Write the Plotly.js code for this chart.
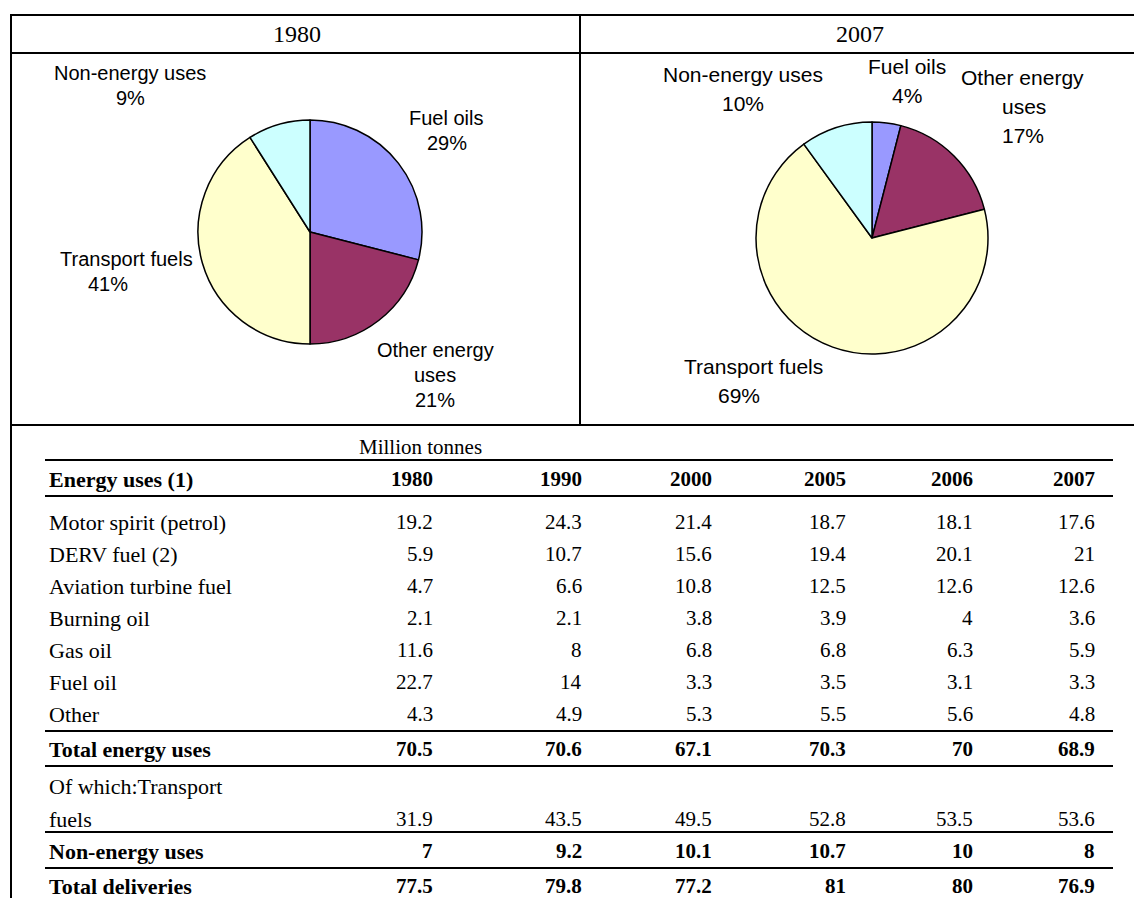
<!DOCTYPE html>
<html><head><meta charset="utf-8">
<script src="https://cdn.plot.ly/plotly-3.0.1.min.js"></script>
<style>html,body{margin:0;padding:0;background:#fff}</style>
</head><body><div id="chart" style="width:1134px;height:898px"></div>
<script>
// ---------- DATA ----------
const pieCategories = ["Fuel oils", "Other energy uses", "Transport fuels", "Non-energy uses"];
const pieYears = ["1980", "2007"];
const pieShares1980 = [29, 21, 41, 9];
const pieShares2007 = [4, 17, 69, 10];

const unitLabel = "Million tonnes";
const headerLabel = "Energy uses (1)";
const tableYears = ["1980", "1990", "2000", "2005", "2006", "2007"];
const rowNames = ["Motor spirit (petrol)", "DERV fuel (2)", "Aviation turbine fuel", "Burning oil",
  "Gas oil", "Fuel oil", "Other", "Total energy uses", "Of which:Transport fuels",
  "Non-energy uses", "Total deliveries"];
const motorSpirit = [19.2, 24.3, 21.4, 18.7, 18.1, 17.6];
const dervFuel = [5.9, 10.7, 15.6, 19.4, 20.1, 21];
const aviationFuel = [4.7, 6.6, 10.8, 12.5, 12.6, 12.6];
const burningOil = [2.1, 2.1, 3.8, 3.9, 4, 3.6];
const gasOil = [11.6, 8, 6.8, 6.8, 6.3, 5.9];
const fuelOil = [22.7, 14, 3.3, 3.5, 3.1, 3.3];
const otherUses = [4.3, 4.9, 5.3, 5.5, 5.6, 4.8];
const totalEnergy = [70.5, 70.6, 67.1, 70.3, 70, 68.9];
const transportFuels = [31.9, 43.5, 49.5, 52.8, 53.5, 53.6];
const nonEnergy = [7, 9.2, 10.1, 10.7, 10, 8];
const totalDeliveries = [77.5, 79.8, 77.2, 81, 80, 76.9];
const rowValues = [motorSpirit, dervFuel, aviationFuel, burningOil, gasOil, fuelOil, otherUses,
  totalEnergy, transportFuels, nonEnergy, totalDeliveries];

// ---------- STYLE / LAYOUT ----------
const W = 1134, H = 898;
const pieColors = ["#9999FF", "#993366", "#FFFFCC", "#CCFFFF"];
const sansFont = "Liberation Sans, Arial, sans-serif";
const serifFont = "Liberation Serif, Times New Roman, serif";

const pieGeom = [{cx: 310, cy: 232, r: 112}, {cx: 872, cy: 238, r: 116}];
const labelWrap = {"Other energy uses": ["Other energy", "uses"], "Of which:Transport fuels": ["Of which:Transport", "fuels"]};
const pieLabelPos = [
  [{xs: [446, 447], y: 118}, {xs: [435, 435, 435], y: 350}, {xs: [126, 108], y: 259}, {xs: [130, 130], y: 73}],
  [{xs: [907, 907], y: 66}, {xs: [1022, 1024, 1023], y: 77}, {xs: [753, 739], y: 366}, {xs: [743, 743], y: 74}]
];
const pieLineGap = [25, 29];
const pieFontSize = [20, 21];

const rowY = [522, 554, 586, 618, 650, 682, 714, 749, [786, 819], 851, 886];
const headerRowY = 479;
const boldRows = [7, 9, 10];
const colRight = [435, 584, 714, 848, 975, 1097];
const labelX = 47;
const tableFontSize = 21;
const labelFontSize = 22;
const tableLines = [460, 496, 731, 766, 832, 868];
const tableX0 = 45, tableX1 = 1113;

const frame = {left: 11, top: 15, headBottom: 53, divider: 580, pieBottom: 425};

// ---------- BUILD ----------
const traces = [pieShares1980, pieShares2007].map((vals, i) => {
  const g = pieGeom[i];
  return {
    type: "pie", labels: pieCategories, values: vals, sort: false,
    direction: "clockwise", rotation: 0, textinfo: "none", hoverinfo: "label+percent",
    marker: {colors: pieColors, line: {color: "#000", width: 1.5}},
    domain: {x: [(g.cx - g.r) / W, (g.cx + g.r) / W], y: [1 - (g.cy + g.r) / H, 1 - (g.cy - g.r) / H]},
    showlegend: false
  };
});

const ann = [];
const shapes = [];
const line = (x0, y0, x1, y1, w) => shapes.push({type: "line", xref: "x", yref: "y", x0, y0, x1, y1,
  line: {color: "#000", width: w || 2}});

// frame
line(frame.left, frame.top, W + 5, frame.top);
line(frame.left, frame.headBottom, W + 5, frame.headBottom);
line(frame.left, frame.pieBottom, W + 5, frame.pieBottom);
line(frame.left, frame.top - 1, frame.left, H + 5);
line(frame.divider, frame.top, frame.divider, frame.pieBottom);

// header years
const headFont = {family: serifFont, size: 24, color: "#000"};
ann.push({x: 297, y: (frame.top + frame.headBottom) / 2, text: pieYears[0], font: headFont});
ann.push({x: 860, y: (frame.top + frame.headBottom) / 2, text: pieYears[1], font: headFont});

// pie labels
[pieShares1980, pieShares2007].forEach((vals, i) => {
  const total = vals.reduce((a, b) => a + b, 0);
  pieCategories.forEach((c, k) => {
    const lines = (labelWrap[c] || [c]).concat([Math.round(vals[k] / total * 100) + "%"]);
    const p = pieLabelPos[i][k];
    lines.forEach((t, j) => ann.push({x: p.xs[j], y: p.y + j * pieLineGap[i], text: t,
      font: {family: sansFont, size: pieFontSize[i], color: "#000"}}));
  });
});

// table
const tFont = {family: serifFont, size: tableFontSize, color: "#000"};
const lFont = {family: serifFont, size: labelFontSize, color: "#000"};
tableLines.forEach(y => line(tableX0, y, tableX1, y));
ann.push({x: 420, y: 447, text: unitLabel, font: tFont});
ann.push({x: labelX, y: headerRowY, text: "<b>" + headerLabel + "</b>", xanchor: "left", font: lFont});
tableYears.forEach((yr, c) => ann.push({x: colRight[c], y: headerRowY, text: "<b>" + yr + "</b>", xanchor: "right", font: tFont}));

rowNames.forEach((name, r) => {
  const bold = boldRows.includes(r);
  const wrap = (t) => bold ? "<b>" + t + "</b>" : t;
  const ys = Array.isArray(rowY[r]) ? rowY[r] : [rowY[r]];
  const parts = labelWrap[name] || [name];
  parts.forEach((p, j) => ann.push({x: labelX, y: ys[j], text: wrap(p), xanchor: "left", font: lFont}));
  const yVal = ys[ys.length - 1];
  rowValues[r].forEach((v, c) => ann.push({x: colRight[c], y: yVal, text: wrap(String(v)), xanchor: "right", font: tFont}));
});

ann.forEach(a => { a.xref = "x"; a.yref = "y"; a.showarrow = false; if (!a.xanchor) a.xanchor = "center"; a.yanchor = "middle"; });

const layout = {
  width: W, height: H, margin: {l: 0, r: 0, t: 0, b: 0},
  paper_bgcolor: "#fff", plot_bgcolor: "rgba(0,0,0,0)",
  xaxis: {range: [0, W], visible: false, fixedrange: true},
  yaxis: {range: [H, 0], visible: false, fixedrange: true},
  shapes, annotations: ann, showlegend: false
};
Plotly.newPlot("chart", traces, layout, {staticPlot: true, displayModeBar: false});
</script></body></html>
